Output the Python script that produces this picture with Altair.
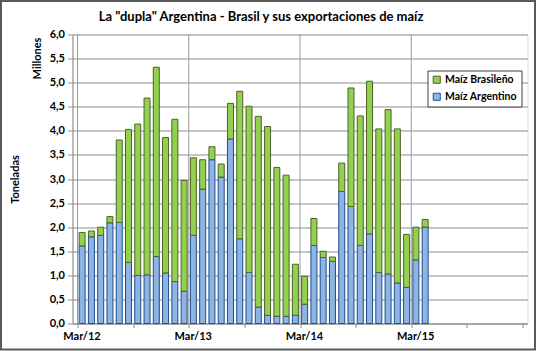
import altair as alt
import pandas as pd

# Months from Mar/12 to Apr/15 (index 0 = Mar/12)
n_months = 38
argentino = [1.61, 1.80, 1.83, 2.09, 2.10, 1.27, 1.00, 1.01, 1.39, 1.05, 0.87, 0.67,
             1.83, 2.79, 3.40, 3.04, 3.83, 1.76, 1.06, 0.34, 0.17, 0.15, 0.15, 0.17,
             0.40, 1.62, 1.37, 1.29, 2.74, 2.43, 1.62, 1.86, 1.06, 1.03, 0.84, 0.75,
             1.32, 2.00]
brasil = [0.28, 0.12, 0.17, 0.13, 1.71, 2.76, 3.14, 3.67, 3.93, 2.81, 3.37, 2.30,
          1.61, 0.61, 0.27, 0.27, 0.74, 3.06, 3.45, 3.96, 3.92, 3.09, 2.93, 1.06,
          0.58, 0.56, 0.13, 0.09, 0.59, 2.46, 2.69, 3.17, 2.98, 3.41, 3.20, 1.10,
          0.68, 0.16]
series_names = ["Maíz Brasileño", "Maíz Argentino"]
year_labels = ["Mar/12", "Mar/13", "Mar/14", "Mar/15"]
year_grid = [0, 12, 24, 36]
title_text = 'La "dupla" Argentina - Brasil y sus exportaciones  de maíz'

rows = []
for i in range(n_months):
    rows.append({"m": i + 0.5, "serie": "Maíz Argentino", "v": argentino[i], "ord": 0})
    rows.append({"m": i + 0.5, "serie": "Maíz Brasileño", "v": brasil[i], "ord": 1})
df = pd.DataFrame(rows)

FONT = "Lato"
W, H = 455, 289

label_expr = "datum.value % 12 == 0 && datum.value < 48 ? [" + ",".join(
    "'" + s + "'" for s in year_labels) + "][datum.value / 12] : ''"

xscale = alt.Scale(domain=[0, 48], nice=False, zero=False)
yscale = alt.Scale(domain=[0, 6], nice=False)

bars = alt.Chart(df).mark_bar(size=6, strokeWidth=1).encode(
    x=alt.X("m:Q", scale=xscale,
            axis=alt.Axis(values=list(range(0, 49, 3)), labelExpr=label_expr,
                          grid=False, title=None, labelFlush=False, labelOverlap=False,
                          labelOffset=4, tickSize=4, tickColor="#8c8c8c",
                          domainColor="#8c8c8c", labelFont=FONT, labelFontSize=11,
                          labelFontWeight="bold", labelColor="#000000", labelPadding=3)),
    y=alt.Y("v:Q", stack="zero", scale=yscale,
            axis=alt.Axis(values=[x / 2 for x in range(13)], format=".1f",
                          labelExpr="replace(datum.label, '.', ',')",
                          title="Toneladas", titleFont=FONT, titleFontSize=11,
                          titleFontWeight="bold", titleColor="#000000",
                          titleX=-52, titleY=H / 2,
                          labelFont=FONT, labelFontSize=11, labelFontWeight="bold",
                          labelColor="#000000", tickSize=5, tickColor="#8c8c8c",
                          domainColor="#8c8c8c", gridColor="#b3b3b3",
                          gridWidth=1.5, labelPadding=3)),
    color=alt.Color("serie:N",
                    scale=alt.Scale(domain=series_names, range=["#92d050", "#8db4e2"]),
                    legend=alt.Legend(title=None, orient="none", legendX=355, legendY=36,
                                      fillColor="white", strokeColor="#404040",
                                      padding=4, symbolType="square", symbolSize=50,
                                      labelFont=FONT, labelFontSize=10.5,
                                      labelFontWeight="bold", labelColor="#000000",
                                      rowPadding=5, symbolStrokeWidth=1,
                                      labelOffset=3)),
    stroke=alt.Stroke("serie:N",
                      scale=alt.Scale(domain=series_names, range=["#4f6228", "#1f4e8c"]),
                      legend=None),
    order=alt.Order("ord:Q"),
)

grid_df = pd.DataFrame({"g": year_grid})
vgrid = alt.Chart(grid_df).mark_rule(color="#9a9a9a", strokeWidth=1).encode(
    x=alt.X("g:Q", scale=xscale)
)

mill = alt.Chart(pd.DataFrame({"t": ["Millones"]})).mark_text(
    angle=270, font=FONT, fontSize=11, fontWeight="bold", color="#000000",
    align="center", baseline="middle"
).encode(text="t:N", x=alt.value(-35), y=alt.value(24))

title = alt.Chart(pd.DataFrame({"t": [title_text]})).mark_text(
    font=FONT, fontSize=13, fontWeight="bold", color="#000000",
    align="center", baseline="alphabetic"
).encode(text="t:N", x=alt.value(188.5), y=alt.value(-14))

border = alt.Chart(pd.DataFrame({"t": [0]})).mark_rect(
    fill=None, stroke="#595959", strokeWidth=2
).encode(x=alt.value(-71.5), x2=alt.value(462.5), y=alt.value(-33.5), y2=alt.value(315))

chart = alt.layer(vgrid, bars, mill, title, border).properties(
    width=W, height=H,
    padding={"left": 72.5, "top": 34.5, "right": 10.5, "bottom": 27.5},
    autosize=alt.AutoSizeParams(type="none"),
).configure_view(stroke="#a6a6a6", strokeWidth=1).configure(background="white")

chart.save("out.html", embed_options={"renderer": "svg", "actions": False})
